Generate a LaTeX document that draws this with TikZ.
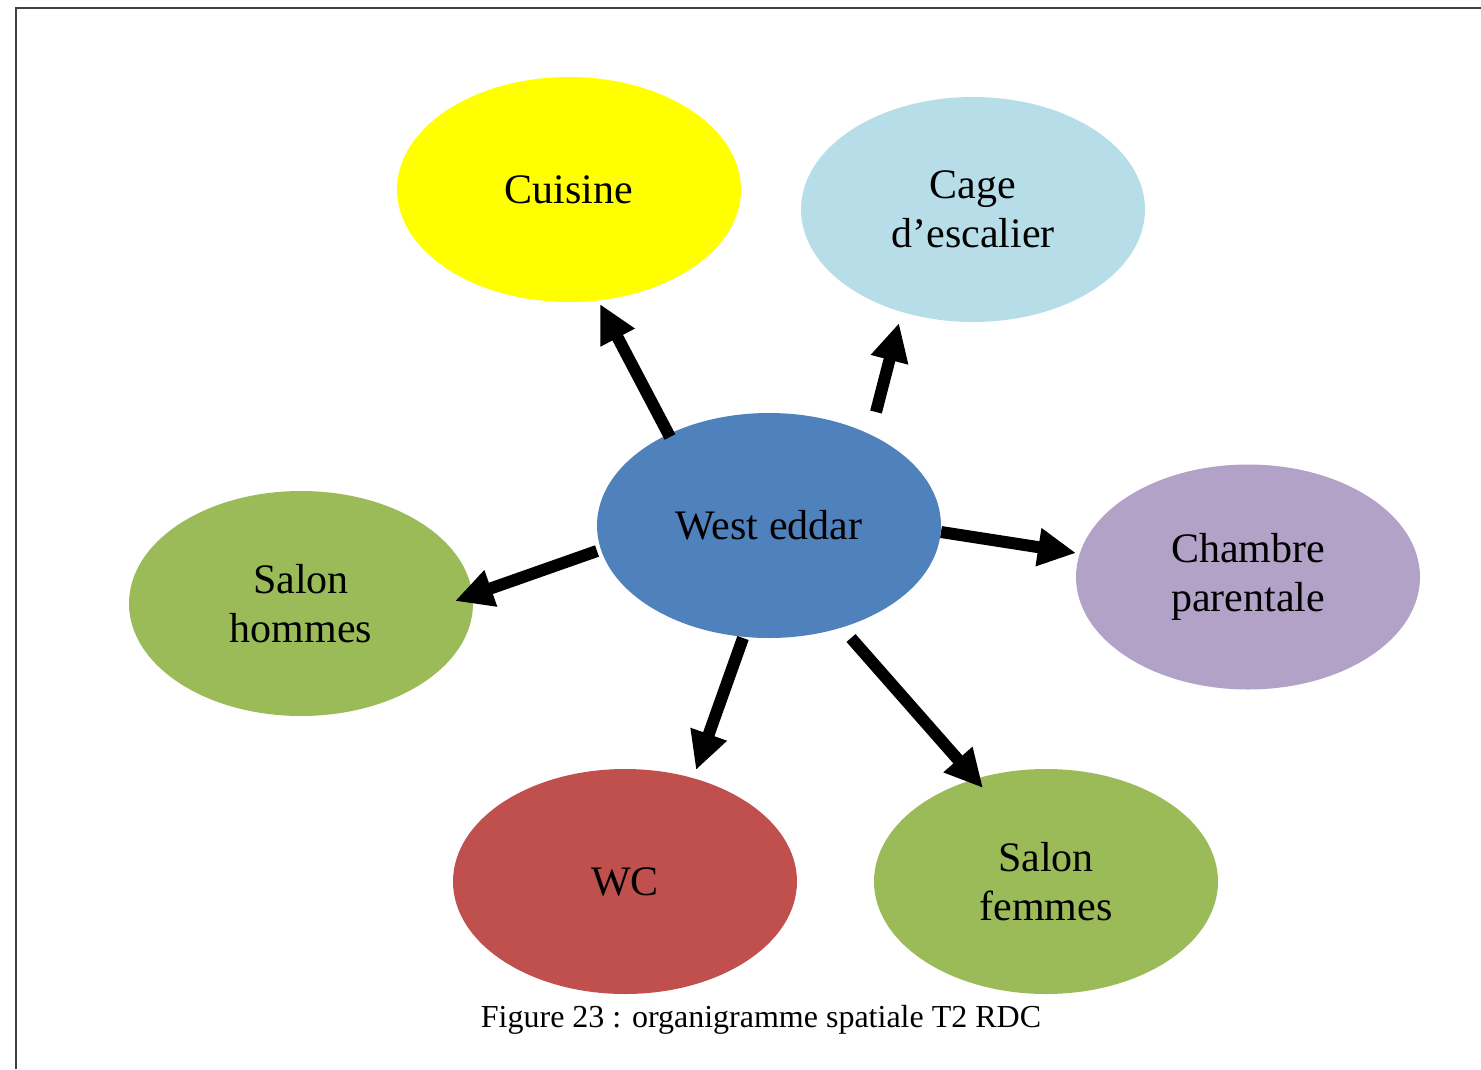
\documentclass[tikz,border=0pt]{standalone}
\usepackage{fontspec}
\setmainfont{Liberation Serif}
\usetikzlibrary{arrows.meta,calc,shapes.geometric}
\definecolor{cyellow}{HTML}{FFFF00}
\definecolor{cblue}{HTML}{B7DEE8}
\definecolor{cwest}{HTML}{4F81BD}
\definecolor{cpurple}{HTML}{B2A2C7}
\definecolor{cgreen}{HTML}{9BBB59}
\definecolor{cred}{HTML}{C0504D}
\definecolor{frame}{HTML}{404040}
\tikzset{
  room/.style={ellipse, minimum width=344pt, minimum height=225pt, inner sep=0pt, outer sep=0pt,
    align=center, font=\fontsize{42}{49}\selectfont},
  arr/.style={line width=12pt, -{Triangle[length=38pt,width=36pt]}},
}
\begin{document}
\begin{tikzpicture}[x=1pt,y=-1pt]
\useasboundingbox (0,0) rectangle (1481,1069);
\draw[frame, line width=2pt] (16,1069) -- (16,8) -- (1481,8);

\node[room, fill=cyellow] (cu) at (569,189.5) {Cuisine};
\node[room, fill=cblue] (ca) at (973,209.5) {Cage\\d’escalier};
\node[room, fill=cwest] (w) at (769,525.5) {West eddar};
\node[room, fill=cpurple] (ch) at (1248,577) {Chambre\\parentale};
\node[room, fill=cgreen] (sh) at (301,603.5) {Salon\\hommes};
\node[room, fill=cred] (wc) at (625,881.5) {WC};
\node[room, fill=cgreen] (sf) at (1046,881.5) {Salon\\femmes};

\draw[arr] ($(w.center)+(-99,-88.5)$) -- ($(cu.center)+(31,114.5)$);
\draw[arr] ($(w.center)+(107,-113.5)$) -- ($(ca.center)+(-74,113.5)$);
\draw[arr] ($(w.center)+(-172,25.5)$) -- ($(sh.center)+(154,-2.5)$);
\draw[arr] ($(w.center)+(172,6.5)$) -- ($(ch.center)+(-172,-24)$);
\draw[arr] ($(w.center)+(-26,112.5)$) -- ($(wc.center)+(71,-111.5)$);
\draw[arr] ($(w.center)+(82,112.5)$) -- ($(sf.center)+(-63,-93.5)$);

\node[font=\fontsize{32}{38}\selectfont, anchor=base] (cap) at (761,1027) {Figure 23 : organigramme spatiale T2 RDC};
\end{tikzpicture}
\end{document}
